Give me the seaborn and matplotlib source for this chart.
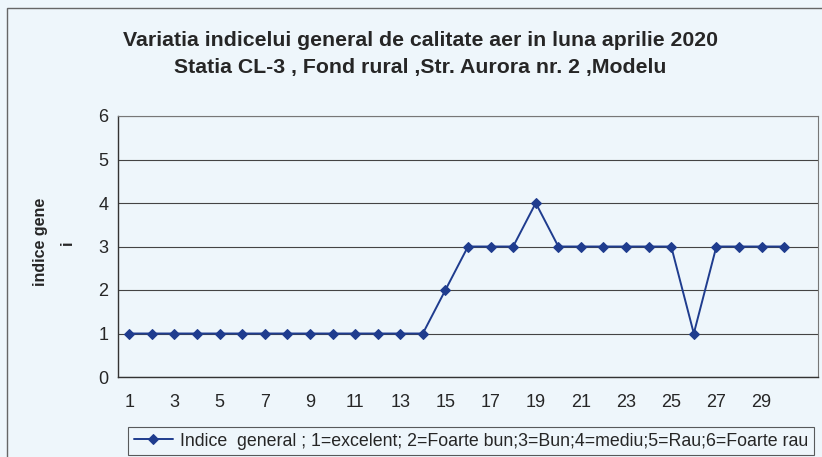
import matplotlib
matplotlib.use("Agg")
import matplotlib.pyplot as plt
import seaborn as sns
import pandas as pd
import numpy as np
from matplotlib.patches import Rectangle

days = list(range(1, 31))
values = [1, 1, 1, 1, 1, 1, 1, 1, 1, 1, 1, 1, 1, 1, 2, 3, 3, 3, 4, 3,
          3, 3, 3, 3, 3, 1, 3, 3, 3, 3]
xtick_labels = [str(d) for d in range(1, 30, 2)]
yticks = [0, 1, 2, 3, 4, 5, 6]
title_line1 = "Variatia indicelui general de calitate aer in luna aprilie 2020"
title_line2 = "Statia CL-3 , Fond rural ,Str. Aurora nr. 2 ,Modelu"
series_label = "Indice  general ; 1=excelent; 2=Foarte bun;3=Bun;4=mediu;5=Rau;6=Foarte rau"

sns.set_style("white")
plt.rcParams['font.family'] = ['Liberation Sans', 'DejaVu Sans']

bg = "#EEF6FB"
line_col = "#1F3C8E"

fig = plt.figure(figsize=(8.22, 4.57), dpi=100)
fig.patch.set_facecolor(bg)
ax = fig.add_axes([118/822, 80/457, 700/822, 261/457])
ax.set_facecolor(bg)

df = pd.DataFrame({"day": days, "val": values})
sns.lineplot(data=df, x="day", y="val", ax=ax, color=line_col, marker="D",
             markersize=5.5, markeredgecolor=line_col, linewidth=1.4,
             label=series_label)

ax.set_xlim(0.5, 31.5)
ax.set_ylim(0, 6)
ax.set_yticks(yticks)
ax.set_yticklabels([str(v) for v in yticks], fontsize=13)
ax.set_xticks(list(range(1, 30, 2)))
ax.set_xticklabels(xtick_labels, fontsize=13)
ax.set_xticks(np.arange(0.5, 31.6, 1.0), minor=True)
ax.tick_params(axis='x', which='major', length=0, pad=12)
ax.tick_params(axis='x', which='minor', length=4, width=0.8, color="#333333", direction='out')
ax.tick_params(axis='y', which='major', length=4, width=0.8, color="#333333", direction='out', pad=3)
ax.grid(axis='y', color="#444444", linewidth=0.8)
ax.set_axisbelow(True)
for s in ["left", "bottom"]:
    ax.spines[s].set_color("#333333")
    ax.spines[s].set_linewidth(1.0)
for s in ["top", "right"]:
    ax.spines[s].set_color("#777777")
    ax.spines[s].set_linewidth(0.8)

ax.set_xlabel("")
ax.set_ylabel("")
fig.text(40/822, 1 - 242/457, "indice gene", rotation=90, ha='center', va='center',
         fontsize=11.5, fontweight='bold')
fig.text(67/822, 1 - 243/457, "i", rotation=90, ha='center', va='center',
         fontsize=11.5, fontweight='bold')

fig.text(420/822, 1 - 40/457, title_line1,
         ha='center', va='center', fontsize=15.3, fontweight='bold')
fig.text(420/822, 1 - 67/457, title_line2,
         ha='center', va='center', fontsize=15.3, fontweight='bold')

leg = ax.legend(loc='center', bbox_to_anchor=(471/822, 1 - 441/457),
                bbox_transform=fig.transFigure, fontsize=12.8, frameon=True,
                fancybox=False, edgecolor="#333333", handlelength=2.2,
                borderpad=0.3, handletextpad=0.4)
leg.get_frame().set_facecolor(bg)
leg.get_frame().set_linewidth(0.8)

fig.patches.append(Rectangle((7/822, -0.1), 1.2, 1 - 8/457 + 0.1, transform=fig.transFigure,
                             fill=False, edgecolor="#666666", linewidth=1.0))

fig.savefig("out.png", dpi=100, facecolor=bg)
